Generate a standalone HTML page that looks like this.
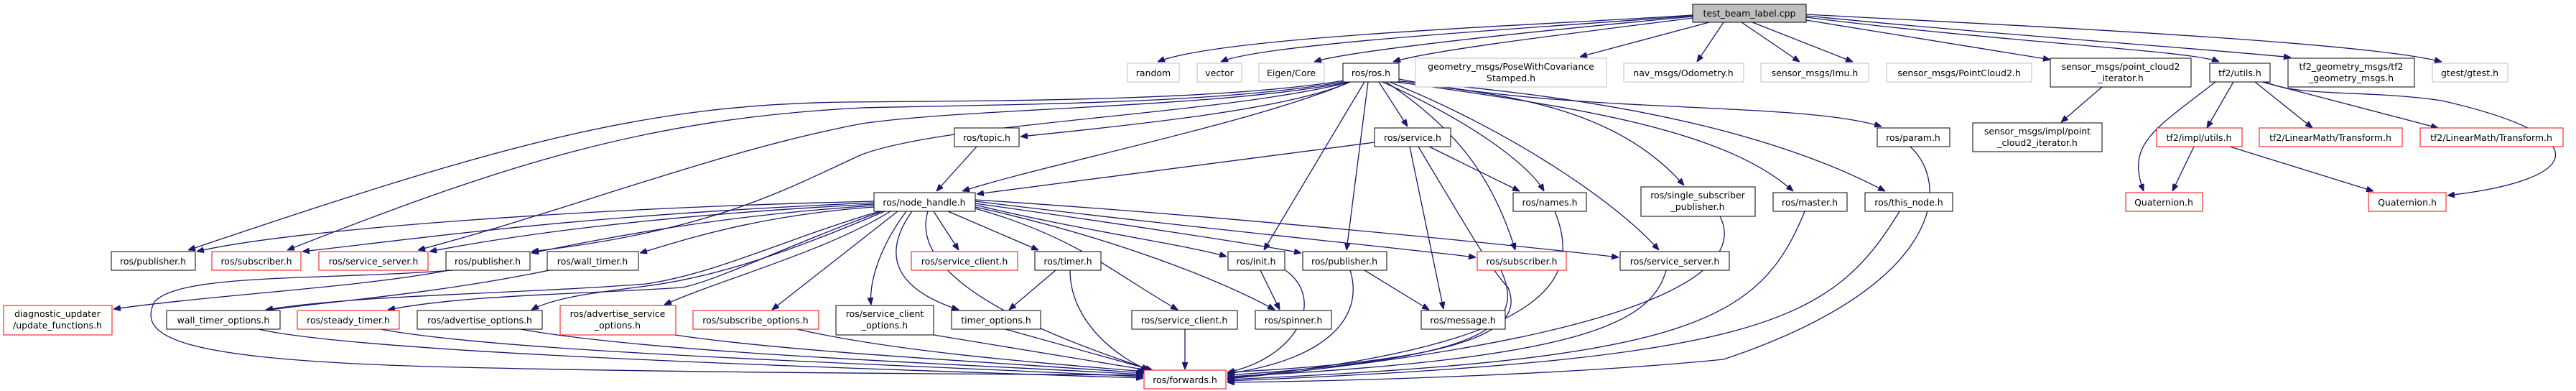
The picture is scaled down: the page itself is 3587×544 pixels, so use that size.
<!DOCTYPE html>
<html><head><meta charset="utf-8"><style>
html,body{margin:0;padding:0;background:#fff}
svg{display:block}
text{font-family:"DejaVu Sans","Liberation Sans",sans-serif;font-size:12.5px;fill:#000;text-anchor:middle}
.e{fill:none;stroke:#191970;stroke-width:1.3;marker-end:url(#a)}
.b{fill:#fff;stroke:#000;stroke-width:1}
.r{fill:#fff;stroke:#ff0000;stroke-width:1}
.g{fill:#fff;stroke:#bfbfbf;stroke-width:1}
.root{fill:#bfbfbf;stroke:#000;stroke-width:1}
.sh{fill:none;stroke:#555;stroke-width:2}
</style></head><body>
<svg width="3587" height="544" viewBox="0 0 3587 544" xmlns="http://www.w3.org/2000/svg">
<defs><marker id="a" markerUnits="userSpaceOnUse" markerWidth="10" markerHeight="8" refX="10" refY="4" orient="auto"><path d="M0,0 L10,4 L0,8 z" fill="#191970" stroke="#191970"/></marker></defs>
<g>
<!-- root edges -->
<path class="e" d="M2357,21 C2150,35 1700,50 1612,86"/>
<path class="e" d="M2357,22 C2150,38 1760,60 1700,86"/>
<path class="e" d="M2357,23 C2150,42 1880,70 1830,86"/>
<path class="e" d="M2357,25 C2200,45 1990,70 1940,86"/>
<path class="e" d="M2380,31 L2200,79"/>
<path class="e" d="M2400,31 L2363,86"/>
<path class="e" d="M2425,31 L2506,86"/>
<path class="e" d="M2440,31 L2580,86"/>
<path class="e" d="M2515,28 L2855,83"/>
<path class="e" d="M2515,24 C2800,60 3050,70 3090,86"/>
<path class="e" d="M2515,22 C2800,50 3100,70 3190,80"/>
<path class="e" d="M2515,20 C2900,40 3300,60 3400,86"/>
<!-- ros.h edges -->
<path class="e" d="M1880,114 C1800,150 1600,172 1421,190"/>
<path class="e" d="M1880,114 C1750,170 1450,230 1340,266"/>
<path class="e" d="M1920,114 L1960,176"/>
<path class="e" d="M1872,112 C1700,140 1400,140 1180,142 C900,145 700,200 262,348"/>
<path class="e" d="M1875,113 C1700,145 1400,145 1200,150 C900,165 700,230 400,348"/>
<path class="e" d="M1878,114 C1700,150 1350,150 1200,172 C1000,210 800,290 582,348"/>
<path class="e" d="M1880,114 C1700,160 1320,170 1200,215 C1100,260 1000,320 740,350"/>
<path class="e" d="M1900,114 L1760,348"/>
<path class="e" d="M1905,114 L1875,348"/>
<path class="e" d="M1925,114 C2050,170 2130,230 2150,266"/>
<path class="e" d="M1930,114 C2030,180 2080,250 2110,348"/>
<path class="e" d="M1935,114 C2100,180 2250,280 2310,348"/>
<path class="e" d="M1940,114 C2100,130 2250,150 2345,258"/>
<path class="e" d="M1945,114 C2200,150 2400,180 2497,266"/>
<path class="e" d="M1948,113 C2300,140 2500,200 2625,266"/>
<path class="e" d="M1948,110 C2200,160 2500,140 2620,176"/>
<!-- topic / service -->
<path class="e" d="M1360,204 L1304,266"/>
<path class="e" d="M1914,198 L1360,270"/>
<path class="e" d="M1990,204 L2116,266"/>
<path class="e" d="M1963,204 L2010,430"/>
<path class="e" d="M1975,204 C2050,330 2080,380 2100,400 C2120,450 2080,500 1709,518"/>
<!-- node_handle edges -->
<path class="e" d="M1217,280 C800,290 400,320 274,350"/>
<path class="e" d="M1217,282 C800,300 600,330 421,350"/>
<path class="e" d="M1217,284 C900,300 700,330 598,350"/>
<path class="e" d="M1217,286 C1000,300 850,330 740,352"/>
<path class="e" d="M1217,288 C1050,300 950,335 891,352"/>
<path class="e" d="M1300,294 L1335,348"/>
<path class="e" d="M1320,294 L1446,348"/>
<path class="e" d="M1358,285 C1500,320 1650,340 1708,357"/>
<path class="e" d="M1358,283 C1550,310 1750,340 1812,352"/>
<path class="e" d="M1358,280 C1600,310 1900,340 2055,358"/>
<path class="e" d="M1358,278 C1700,300 2100,340 2254,358"/>
<path class="e" d="M1225,294 C1100,330 1000,380 900,395 C700,410 500,410 370,431"/>
<path class="e" d="M1228,294 C1100,340 1000,390 950,400 C800,410 650,410 540,431"/>
<path class="e" d="M1232,294 C1100,350 1000,385 900,398 C820,408 770,415 740,431"/>
<path class="e" d="M1240,294 C1150,350 1000,390 925,424"/>
<path class="e" d="M1250,294 L1075,431"/>
<path class="e" d="M1262,294 C1220,350 1210,400 1213,424"/>
<path class="e" d="M1270,294 C1230,350 1240,400 1335,431"/>
<path class="e" d="M1358,290 C1500,330 1550,380 1640,431"/>
<path class="e" d="M1358,288 C1550,330 1700,390 1775,431"/>
<path class="e" d="M1292,294 C1260,400 1500,480 1600,514"/>
<!-- others -->
<path class="e" d="M625,376 C500,400 300,410 158,430"/>
<path class="e" d="M630,376 C450,390 250,380 215,420 C190,470 250,500 600,510 C1000,520 1400,520 1592,522"/>
<path class="e" d="M765,376 C600,410 450,420 370,432"/>
<path class="e" d="M1470,376 L1405,431"/>
<path class="e" d="M1490,376 C1490,450 1560,500 1600,515"/>
<path class="e" d="M1755,376 L1782,431"/>
<path class="e" d="M1790,376 C1850,420 1800,500 1709,518"/>
<path class="e" d="M1900,376 L1990,431"/>
<path class="e" d="M1880,376 C1900,440 1850,500 1709,520"/>
<path class="e" d="M2090,376 C2130,460 2050,500 1709,522"/>
<path class="e" d="M2320,376 C2300,450 2200,500 1709,524"/>
<path class="e" d="M2165,294 C2200,380 2180,480 1709,526"/>
<path class="e" d="M2395,301 C2420,350 2400,460 1709,527"/>
<path class="e" d="M2513,294 C2450,450 2350,500 1709,528"/>
<path class="e" d="M2645,294 C2550,450 2450,500 1709,530"/>
<path class="e" d="M2660,204 C2720,260 2700,400 2400,500 C2200,520 1900,530 1709,532"/>
<path class="e" d="M360,458 C500,490 1100,510 1592,526"/>
<path class="e" d="M530,458 C700,490 1200,505 1592,524"/>
<path class="e" d="M725,458 C900,490 1300,505 1592,521"/>
<path class="e" d="M940,466 C1100,490 1400,505 1593,519"/>
<path class="e" d="M1110,458 C1250,490 1450,505 1595,517"/>
<path class="e" d="M1300,466 L1598,515"/>
<path class="e" d="M1400,458 L1605,515"/>
<path class="e" d="M1650,458 L1650,514"/>
<!-- tf2 -->
<path class="e" d="M2927,121 L2870,170"/>
<path class="e" d="M3110,114 L3073,178"/>
<path class="e" d="M3085,114 C3000,180 2960,200 2985,266"/>
<path class="e" d="M3140,114 L3220,178"/>
<path class="e" d="M3150,114 L3395,178"/>
<path class="e" d="M3155,114 C3200,135 3300,125 3400,140 C3620,190 3600,250 3408,272"/>
<path class="e" d="M3055,204 L3025,266"/>
<path class="e" d="M3105,204 L3305,266"/>
</g>
<g>
<!-- nodes -->
<rect class="root" x="2357" y="6" width="158" height="25"/><text x="2436" y="23">test_beam_label.cpp</text>
<rect class="g" x="1570" y="88" width="72" height="26"/><text x="1606" y="106">random</text>
<rect class="g" x="1667" y="88" width="62" height="26"/><text x="1698" y="106">vector</text>
<rect class="g" x="1753" y="88" width="91" height="26"/><text x="1798" y="106">Eigen/Core</text>
<rect class="g" x="1971" y="81" width="266" height="40"/><text x="2104" y="97">geometry_msgs/PoseWithCovariance</text><text x="2104" y="113">Stamped.h</text>
<rect class="g" x="2261" y="88" width="167" height="26"/><text x="2344" y="106">nav_msgs/Odometry.h</text>
<rect class="g" x="2452" y="88" width="150" height="26"/><text x="2527" y="106">sensor_msgs/Imu.h</text>
<rect class="g" x="2627" y="88" width="202" height="26"/><text x="2728" y="106">sensor_msgs/PointCloud2.h</text>
<rect class="g" x="3387" y="88" width="105" height="26"/><text x="3439" y="106">gtest/gtest.h</text>

<rect class="b" x="1870" y="88" width="78" height="26"/><text x="1909" y="106">ros/ros.h</text>
<rect class="b" x="2855" y="81" width="196" height="40"/><text x="2953" y="97">sensor_msgs/point_cloud2</text><text x="2953" y="113">_iterator.h</text>
<rect class="b" x="3077" y="88" width="84" height="26"/><text x="3119" y="106">tf2/utils.h</text>
<rect class="b" x="3186" y="81" width="176" height="40"/><text x="3274" y="97">tf2_geometry_msgs/tf2</text><text x="3274" y="113">_geometry_msgs.h</text>

<rect class="b" x="1329" y="178" width="90" height="26"/><text x="1374" y="196">ros/topic.h</text>
<rect class="b" x="1914" y="178" width="106" height="26"/><text x="1967" y="196">ros/service.h</text>
<rect class="b" x="2614" y="178" width="101" height="26"/><text x="2664" y="196">ros/param.h</text>
<rect class="b" x="2747" y="171" width="180" height="40"/><text x="2837" y="187">sensor_msgs/impl/point</text><text x="2837" y="203">_cloud2_iterator.h</text>
<rect class="r" x="3003" y="178" width="119" height="26"/><text x="3062" y="196">tf2/impl/utils.h</text>
<rect class="r" x="3146" y="178" width="199" height="26"/><text x="3245" y="196">tf2/LinearMath/Transform.h</text>
<rect class="r" x="3370" y="178" width="199" height="26"/><text x="3469" y="196">tf2/LinearMath/Transform.h</text>

<rect class="b" x="1217" y="268" width="141" height="26"/><text x="1287" y="286">ros/node_handle.h</text>
<rect class="b" x="2107" y="268" width="102" height="26"/><text x="2158" y="286">ros/names.h</text>
<rect class="b" x="2285" y="260" width="159" height="41"/><text x="2364" y="276">ros/single_subscriber</text><text x="2364" y="292">_publisher.h</text>
<rect class="b" x="2469" y="268" width="103" height="26"/><text x="2520" y="286">ros/master.h</text>
<rect class="b" x="2597" y="268" width="122" height="26"/><text x="2658" y="286">ros/this_node.h</text>
<rect class="r" x="2960" y="268" width="107" height="26"/><text x="3013" y="286">Quaternion.h</text>
<rect class="r" x="3298" y="268" width="108" height="26"/><text x="3352" y="286">Quaternion.h</text>

<rect class="b" x="155" y="350" width="117" height="26"/><text x="213" y="368">ros/publisher.h</text>
<rect class="r" x="295" y="350" width="124" height="26"/><text x="357" y="368">ros/subscriber.h</text>
<rect class="r" x="444" y="350" width="152" height="26"/><text x="520" y="368">ros/service_server.h</text>
<rect class="b" x="621" y="350" width="117" height="26"/><text x="679" y="368">ros/publisher.h</text>
<rect class="b" x="762" y="350" width="127" height="26"/><text x="825" y="368">ros/wall_timer.h</text>
<rect class="r" x="1269" y="350" width="148" height="26"/><text x="1343" y="368">ros/service_client.h</text>
<rect class="b" x="1441" y="350" width="92" height="26"/><text x="1487" y="368">ros/timer.h</text>
<rect class="b" x="1710" y="350" width="79" height="26"/><text x="1749" y="368">ros/init.h</text>
<rect class="b" x="1814" y="350" width="117" height="26"/><text x="1872" y="368">ros/publisher.h</text>
<rect class="r" x="2057" y="350" width="124" height="26"/><text x="2119" y="368">ros/subscriber.h</text>
<rect class="b" x="2256" y="350" width="152" height="26"/><text x="2332" y="368">ros/service_server.h</text>

<rect class="r" x="5" y="425" width="151" height="41"/><text x="80" y="441">diagnostic_updater</text><text x="80" y="457">/update_functions.h</text>
<rect class="b" x="232" y="432" width="158" height="26"/><text x="311" y="450">wall_timer_options.h</text>
<rect class="r" x="414" y="432" width="142" height="26"/><text x="485" y="450">ros/steady_timer.h</text>
<rect class="b" x="581" y="432" width="174" height="26"/><text x="668" y="450">ros/advertise_options.h</text>
<rect class="r" x="780" y="425" width="161" height="41"/><text x="860" y="441">ros/advertise_service</text><text x="860" y="457">_options.h</text>
<rect class="r" x="965" y="432" width="175" height="26"/><text x="1052" y="450">ros/subscribe_options.h</text>
<rect class="b" x="1164" y="425" width="136" height="41"/><text x="1232" y="441">ros/service_client</text><text x="1232" y="457">_options.h</text>
<rect class="b" x="1325" y="432" width="124" height="26"/><text x="1387" y="450">timer_options.h</text>
<rect class="b" x="1576" y="432" width="147" height="26"/><text x="1649" y="450">ros/service_client.h</text>
<rect class="b" x="1748" y="432" width="106" height="26"/><text x="1801" y="450">ros/spinner.h</text>
<rect class="b" x="1979" y="432" width="117" height="26"/><text x="2037" y="450">ros/message.h</text>

<rect class="r" x="1593" y="515" width="114" height="26"/><text x="1650" y="533">ros/forwards.h</text>
</g>
</svg>
</body></html>
